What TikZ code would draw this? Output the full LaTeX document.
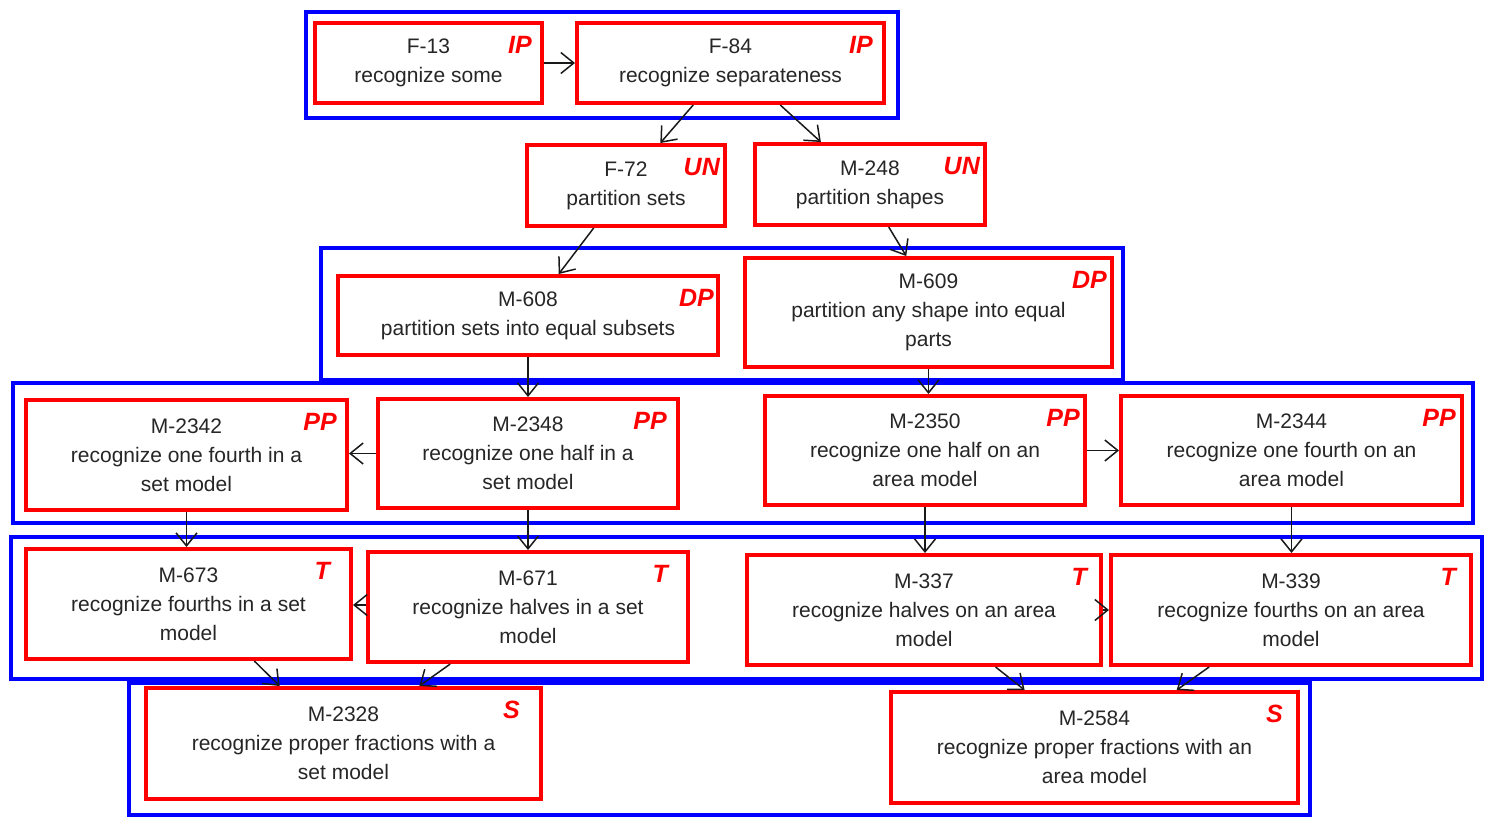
\documentclass[tikz,border=0pt]{standalone}
\usepackage{fontspec}
\setmainfont{Liberation Sans}
\usetikzlibrary{arrows.meta,calc}

\definecolor{boxred}{RGB}{255,0,0}
\definecolor{grpblue}{RGB}{0,0,255}

\tikzset{
  skill/.style={draw=boxred, line width=4pt, fill=white, align=center,
    inner sep=0pt, font=\fontsize{21}{29}\selectfont, text=black!85},
  tag/.style={anchor=north east, inner sep=0pt, text=boxred,
    font=\fontsize{25}{25}\selectfont\bfseries\itshape},
  grp/.style={draw=grpblue, line width=4pt},
  arr/.style={draw=black!90, line width=1.5pt,
    -{Straight Barb[length=13pt,width=21pt,line width=1.5pt]}},
}

\begin{document}
\begin{tikzpicture}[x=1pt,y=-1pt]
\useasboundingbox (0,0) rectangle (1488,817);
\fill[white] (0,0) rectangle (1488,817);

% grouping frames
\draw[grp] (306,12) rectangle (898,118);
\draw[grp] (321,248) rectangle (1123,380);
\draw[grp] (13,383) rectangle (1473,523);
\draw[grp] (11,537) rectangle (1482,679);
\draw[grp] (129,683) rectangle (1310,815);

% skills
\node[skill, minimum width=227, minimum height=80,
  label={[tag,xshift=-12,yshift=-15]north east:IP}] (f13) at (428.5,63)
  {F-13\\recognize some};
\node[skill, minimum width=307, minimum height=80,
  label={[tag,xshift=-13,yshift=-15]north east:IP}] (f84) at (730.5,63)
  {F-84\\recognize separateness};
\node[skill, minimum width=198, minimum height=81,
  label={[tag,xshift=-7,yshift=-15]north east:UN}] (f72) at (626,185.5)
  {F-72\\partition sets};
\node[skill, minimum width=230, minimum height=81,
  label={[tag,xshift=-7,yshift=-15]north east:UN}] (m248) at (870,184.5)
  {M-248\\partition shapes};
\node[skill, minimum width=380, minimum height=79,
  label={[tag,xshift=-6,yshift=-15]north east:DP}] (m608) at (528,315.5)
  {M-608\\partition sets into equal subsets};
\node[skill, minimum width=367, minimum height=109,
  label={[tag,xshift=-7,yshift=-15]north east:DP}] (m609) at (928.5,312.5)
  {M-609\\partition any shape into equal\\parts};
\node[skill, minimum width=321, minimum height=110,
  label={[tag,xshift=-12,yshift=-15]north east:PP}] (m2342) at (186.5,455)
  {M-2342\\recognize one fourth in a\\set model};
\node[skill, minimum width=300, minimum height=109,
  label={[tag,xshift=-13,yshift=-15]north east:PP}] (m2348) at (528,453.5)
  {M-2348\\recognize one half in a\\set model};
\node[skill, minimum width=320, minimum height=109,
  label={[tag,xshift=-7,yshift=-15]north east:PP}] (m2350) at (925,450.5)
  {M-2350\\recognize one half on an\\area model};
\node[skill, minimum width=341, minimum height=109,
  label={[tag,xshift=-8,yshift=-15]north east:PP}] (m2344) at (1291.5,450.5)
  {M-2344\\recognize one fourth on an\\area model};
\node[skill, minimum width=325, minimum height=110,
  label={[tag,xshift=-23,yshift=-15]north east:T}] (m673) at (188.5,604)
  {M-673\\recognize fourths in a set\\model};
\node[skill, minimum width=320, minimum height=110,
  label={[tag,xshift=-22,yshift=-15]north east:T}] (m671) at (528,607)
  {M-671\\recognize halves in a set\\model};
\node[skill, minimum width=354, minimum height=110,
  label={[tag,xshift=-16,yshift=-15]north east:T}] (m337) at (924,610)
  {M-337\\recognize halves on an area\\model};
\node[skill, minimum width=360, minimum height=110,
  label={[tag,xshift=-17,yshift=-15]north east:T}] (m339) at (1291,610)
  {M-339\\recognize fourths on an area\\model};
\node[skill, minimum width=395, minimum height=111,
  label={[tag,xshift=-23,yshift=-15]north east:S}] (m2328) at (343.5,743.5)
  {M-2328\\recognize proper fractions with a\\set model};
\node[skill, minimum width=407, minimum height=111,
  label={[tag,xshift=-17,yshift=-15]north east:S}] (m2584) at (1094.5,747.5)
  {M-2584\\recognize proper fractions with an\\area model};

% prerequisite links
\draw[arr] (f13.east) -- (f13.east -| f84.west);
\draw[arr] ($(f84.south west)!0.38!(f84.south east)$) -- ($(f72.north west)!0.67!(f72.north east)$);
\draw[arr] ($(f84.south west)!0.66!(f84.south east)$) -- ($(m248.north west)!0.29!(m248.north east)$);
\draw[arr] ($(f72.south west)!0.34!(f72.south east)$) -- ($(m608.north west)!0.58!(m608.north east)$);
\draw[arr] ($(m248.south west)!0.58!(m248.south east)$) -- ($(m609.north west)!0.44!(m609.north east)$);
\draw[arr] (m608.south) -- (m608.south |- m2348.north);
\draw[arr] (m609.south) -- (m609.south |- m2350.north);
\draw[arr] (m2348.west) -- (m2348.west -| m2342.east);
\draw[arr] (m2350.east) -- (m2350.east -| m2344.west);
\draw[arr] (m2342.south) -- (m2342.south |- m673.north);
\draw[arr] (m2348.south) -- (m2348.south |- m671.north);
\draw[arr] (m2350.south) -- (m2350.south |- m337.north);
\draw[arr] (m2344.south) -- (m2344.south |- m339.north);
\draw[arr] ($(m671.west)+(0,-2)$) -- ($(m671.west -| m673.east)+(0,-2)$);
\draw[arr] (m337.east) -- (m337.east -| m339.west);
\draw[arr] ($(m673.south west)!0.70!(m673.south east)$) -- ($(m2328.north west)!0.34!(m2328.north east)$);
\draw[arr] ($(m671.south west)!0.26!(m671.south east)$) -- ($(m2328.north west)!0.69!(m2328.north east)$);
\draw[arr] ($(m337.south west)!0.70!(m337.south east)$) -- ($(m2584.north west)!0.33!(m2584.north east)$);
\draw[arr] ($(m339.south west)!0.275!(m339.south east)$) -- ($(m2584.north west)!0.70!(m2584.north east)$);
\end{tikzpicture}
\end{document}
